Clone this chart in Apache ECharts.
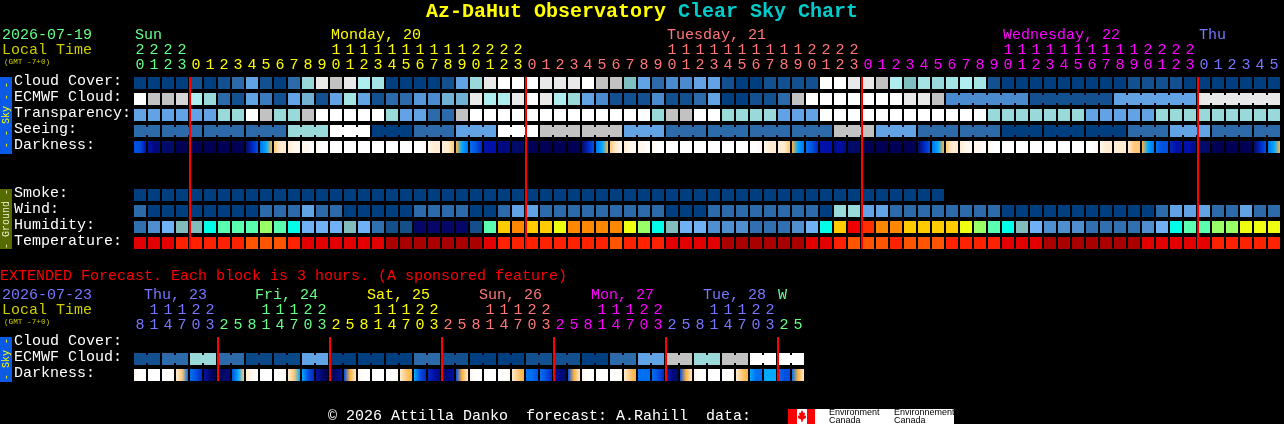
<!DOCTYPE html>
<html><head><meta charset="utf-8">
<style>html,body{margin:0;padding:0;background:#000;overflow:hidden}#c{width:1284px;height:424px}</style>
<script src="https://cdn.jsdelivr.net/npm/echarts@6/dist/echarts.min.js"></script>
</head><body><div id="c"></div>
<script>
// ---------- categories ----------
const rowLabels = ['Cloud Cover:','ECMWF Cloud:','Transparency:','Seeing:','Darkness:','','','Smoke:','Wind:','Humidity:','Temperature:'];
const extRowLabels = ['Cloud Cover:','ECMWF Cloud:','Darkness:'];
const hours = [20,21,22,23,
 0,1,2,3,4,5,6,7,8,9,10,11,12,13,14,15,16,17,18,19,20,21,22,23,
 0,1,2,3,4,5,6,7,8,9,10,11,12,13,14,15,16,17,18,19,20,21,22,23,
 0,1,2,3,4,5,6,7,8,9,10,11,12,13,14,15,16,17,18,19,20,21,22,23,
 0,1,2,3,4,5];
const extHours = [8,11,14,17,20,23,
 2,5,8,11,14,17,20,23, 2,5,8,11,14,17,20,23, 2,5,8,11,14,17,20,23,
 2,5,8,11,14,17,20,23, 2,5,8,11,14,17,20,23, 2,5];
const dayStarts = [0,4,28,52,76];
const dayColours = ['#66ff88','#ffff00','#ff7777','#ff00ff','#7777ff'];
const dayNames = ['Sun','Monday, 20','Tuesday, 21','Wednesday, 22','Thu'];
const dayNameCells = [0,14,38,62,76];
const extDayStarts = [0,6,14,22,30,38,46];
const extDayColours = ['#7777ff','#66ff88','#ffff00','#ff7777','#ff00ff','#7777ff','#66ff88'];
const extDayNames = ['Thu, 23','Fri, 24','Sat, 25','Sun, 26','Mon, 27','Tue, 28','W'];
const extDayNameCells = [0.65,8.57,16.57,24.57,32.57,40.57,45.93];
const midnights = [4,28,52,76];
const extMidnights = [6,14,22,30,38,46];

// ---------- series values (levels) ----------
const cloud = [0,0,0,0, 1,0,1,2,4,1,0,2,6,9,8,9,7,6.5,0,0,0,
 0,1,4,6,9,10,10,10,9,9,9,10,8,8,5,4,2,3,3,4,4,1,0,0,1,1,1,1,10,10,9,
 9,8,7,5,6.5,6,6.5,7,6.5,1, 0,0,0,0,0,0,0,0,0, 1,1,1,1, 0,0,0,0,0,0,0];
const ecmwf = [10,8,8,8.5,7,6,2,1,4,2.5,1,4,4.5,1,4,6.5,4,1,2,2,3.5,
 3,4.5,4.5,9,7,7,9,10,9,7,6,4,3,1,1,1,3,1,1,2,4,0,0,1,1,2,8,10,10,10,10,
 10,10,10,9,9,8, 3,3,3,3,3,3, 1,1,1,1,1,1, 4,4,4,4,4,4, 9,9,9,9,9,9];
const transparency = [4,4,4,4,4,4,6,6,10,8,6,6,8,10,10,10,10,10,6,4,4,
 2,2,8,10,10,10,10,10,10,10,10,10,10,10,10,10,6,8,8,10,10,6,6,6,6,4,4,4,10,10,10,
 10,10,10,10,10,10,10,10,10,6,6,6,6,6,6,6,4,4,4,4,4,6,6,6,6,6,6,6,6,6];
const seeing = [2,2, 2,2,2, 2,2,2, 2,2,2, 6,6,6, 10,10,10, 0,0,0, 2,2,2, 4,4,4, 10,10,10,
 8,8,8, 8,8,8, 4,4,4, 2,2,2, 2,2,2, 2,2,2, 2,2,2, 8,8,8, 4,4,4, 2,2,2, 2,2,2,
 0,0,0, 0,0,0, 0,0,0, 2,2,2, 4,4,4, 2,2,2, 2,2];
const darkness = [[8,8,10],[10,11,11],[12,12,12],[13,13,13],
 [13,13,13],[13,13,13],[13,13,13],[13,13,13],[12,9,8],[7,6,4],[3,2,2],[2,1,1],[1,1,0],[1,0,0],
 [0,0,0],[0,0,0],[0,0,0],[0,0,0],[0,0,0],[0,0,0],[0,0,1],[1,2,2],[2,2,3],[4,6,7],[7,8,9],[10,10,10],[11,11,11],[12,12,12],
 [13,13,13],[13,13,13],[13,13,13],[13,13,13],[12,9,8],[7,6,4],[3,2,1],[2,1,1],[1,1,0],[1,0,0],
 [0,0,0],[0,0,0],[0,0,0],[0,0,0],[0,0,0],[0,0,0],[0,0,1],[1,2,2],[2,2,3],[4,6,7],[7,8,9],[10,10,10],[11,10,11],[12,12,12],
 [13,13,13],[13,13,13],[13,13,13],[13,13,13],[12,9,8],[7,6,4],[3,2,2],[2,1,1],[1,1,0],[1,0,0],
 [0,0,0],[0,0,0],[0,0,0],[0,0,0],[0,0,0],[0,0,0],[0,0,1],[1,2,2],[2,2,2],[2,3,3],[4,6,7],[7,8,8],[9,10,10],[10,10,11],
 [12,12,12],[13,13,13],[13,13,13],[13,13,13],[12,9,8],[7,6,4]];
const smoke = [0,0,0,0,0,0,0,0,0,0,0,0,0,0,0,0,0,0,0,0,0,0,0,0,0,0,0,0,0,0,
 0,0,0,0,0,0,0,0,0,0,0,0,0,0,0,0,0,0,0,0,0,0,0,0,0,0,0,0];
const wind = [2,0,0,0,0,0,0,0,0,2,2,2,4,2,2,0,0,0,0,0,2,
 2,2,2,0,0,2,4,4,2,2,2,2,2,2,2,2,2,0,0,0,2,2,2,2,2,2,2,2,0,6,6,
 4,4,2,2,2,2,2,2,2,2,0,0,0,0,0,0,0,0,0,0,0,2,4,4,4,2,2,4,2,2];
const humidity = [2,3,4,5,5,6,7,7,7,8,7,6,4,4,4,5,4,2,1,1,0,
 0,0,0,1,7,10,11,10,10,9,11,11,11,11,9,8,6,5,4,4,3,3,3,2,2,2,3,4,6,10,13,
 12,11,11,10,10,10,10,9,8,7,6,5,4,3,3,3,2,2,2,2,3,4,6,7,7,8,8,9,9,9];
const temperature = [1,1,1,2,2,2,2,2,3,3,3,2,1,1,1,1,1,1,0,0,0,
 0,0,0,0,1,2,2,2,2,2,2,2,2,3,2,2,2,1,1,1,1,0,0,0,0,0,0,1,1,2,3,
 3,3,2,3,3,3,2,2,2,2,1,1,1,0,0,0,0,0,0,0,1,1,1,1,1,2,2,2,2,2];
const extEcmwf = [1,1,2,2,6,6,2,2,0.5,0.5,0.5,0.5,4,4,0,0,0,0,0,0,2,2,1,1,
 0,0,0,0,1,1,1,1,0,0,2,2,4,4,8,8,6,6,8,8,10,10,10,10];
const extDarkness = [[1,0,0],[0,0,0],[0,0,1],[2,3,7],[7,8,9],[10,12,13],[13,12,11],[8,6,3],
 [2,1,0],[0,0,0],[0,0,1],[2,3,6],[6,8,9],[10,12,13],[13,12,10],[8,4,2],
 [1,0,0],[0,0,0],[0,0,1],[2,3,4],[6,8,9],[9,10,11],[12,11,10],[8,4,2],
 [1,0,0],[0,0,0],[0,0,1],[2,3,4],[7,7,8],[7,8,9],[10,11,12],[8,4,2],
 [1,0,0],[0,0,0],[0,0,1],[2,3,4],[7,7,7],[7,8,9],[9,11,12],[8,4,2],
 [1,0,0],[0,0,0],[0,0,1],[2,3,4],[6,7,7],[6,6,6],[7,8,8],[7,4,2]];

// ---------- palettes ----------
const cloudColours = ['#003f7f','#13508f','#2c6aa9','#4a8bd0','#62a3e6','#7fbfbf','#99d9d9','#aeeeee','#c2c2c2','#e9e9e9','#ffffff'];
const humidityColours = ['#060668','#144f8a','#3070b0','#4f8fd0','#70b0f5','#82bcbc','#00ffe8','#5affb0','#99ff66','#eeff10','#ffcc00','#ff8800','#ff3000','#ee0000'];
const temperatureColours = ['#aa0000','#e30000','#ff2200','#ff5500'];
const darknessColours = ['#ffffff','#fff8ee','#ffecd2','#ffc878','#ffb040','#40b090','#00a8ff','#0070f0','#0050e0','#0028c0','#0010a8','#000a80','#000a68','#000055'];

const MONO = '"Liberation Mono","DejaVu Sans Mono",monospace';
const FS = 15;

const shade = v => echarts.color.lerp(v/10, cloudColours);
const sameBlock = (i, start, size) => size>0 && i>=start-size*10 && Math.floor((i-start)/size)===Math.floor((i+1-start)/size);

// one row of blocks: [cell, row, colourIndex, bridgeToNext]
function blockSeries(name, gridIdx, row, values, colourOf, blockStart, blockSize, from){
  return {
    type:'custom', name, xAxisIndex:gridIdx===0?0:2, yAxisIndex:gridIdx, z:2, clip:false, silent:true,
    encode:{x:0,y:1},
    data: values.map((v,i)=>[i,row,v,(i+1<values.length && i>=(from||0) && values[i+1]===v && sameBlock(i,blockStart,blockSize))?1:0]),
    renderItem(p,api){
      const c=api.coord([api.value(0),api.value(1)]), s=api.size([1,1]);
      const w=s[0]-2,h=s[1]-4,x=c[0]-w/2,y=c[1]-h/2,fill=colourOf(api.value(2));
      const children=[{type:'rect',shape:{x,y,width:w,height:h},style:{fill}}];
      if(api.value(3)) children.push({type:'rect',shape:{x:x+w,y:y+2,width:2,height:h-4},style:{fill}});
      return {type:'group',children};
    }
  };
}
function darkSeries(name, gridIdx, row, triples){
  return {
    type:'custom', name, xAxisIndex:gridIdx===0?0:2, yAxisIndex:gridIdx, z:2, clip:false, silent:true,
    encode:{x:0,y:1},
    data: triples.map((t,i)=>[i,row,t[0],t[1],t[2]]),
    renderItem(p,api){
      const c=api.coord([api.value(0),api.value(1)]), s=api.size([1,1]);
      const w=s[0]-2,h=s[1]-4;
      return {type:'rect',shape:{x:c[0]-w/2,y:c[1]-h/2,width:w,height:h},style:{fill:{type:'linear',x:0,y:0,x2:1,y2:0,colorStops:[
        {offset:0,color:darknessColours[api.value(2)]},
        {offset:0.5,color:darknessColours[api.value(3)]},
        {offset:1,color:darknessColours[api.value(4)]}]}}};
    }
  };
}
function redLines(gridIdx, cells, lastRow){
  return {
    type:'custom', name:'midnight', xAxisIndex:gridIdx===0?0:2, yAxisIndex:gridIdx, z:5, clip:false, silent:true,
    encode:{x:0,y:1},
    data: cells.map(c=>[c,0]),
    renderItem(p,api){
      const a=api.coord([api.value(0),0]), b=api.coord([api.value(0),lastRow]), s=api.size([1,1]);
      return {type:'rect',shape:{x:a[0]-s[0]/2,y:a[1]-s[1]/2+2,width:2,height:b[1]-a[1]+s[1]-4},style:{fill:'#ff0000'}};
    }
  };
}
function colourAt(i,starts,colours){let k=0;starts.forEach((s,j)=>{if(i>=s)k=j});return colours[k];}
function hourAxis(gridIndex,hrs,starts,colours,tens,margin,offset){
  return {
    type:'category', gridIndex, position:'top', offset,
    data: hrs.map((h,i)=>({value:tens?(h>=10?String(Math.floor(h/10)):''):String(h%10),textStyle:{color:colourAt(i,starts,colours)}})),
    axisLine:{show:false}, axisTick:{show:false}, splitLine:{show:false},
    axisLabel:{interval:0,margin,fontFamily:MONO,fontSize:FS,hideOverlap:false}
  };
}
function rowAxis(gridIndex,labels){
  return {
    type:'category', gridIndex, inverse:true, data:labels,
    axisLine:{show:false}, axisTick:{show:false}, splitLine:{show:false},
    axisLabel:{interval:0,align:'left',margin:119,color:'#fff',
      formatter:v=>v?'{a|'+v+'}':'',
      rich:{a:{color:'#fff',fontFamily:MONO,fontSize:FS,padding:[0,0,4,0]}}}
  };
}
const txt=(x,y,text,fill,size,extra)=>Object.assign({type:'text',x,y,silent:true,style:Object.assign({text,fill,font:(size||FS)+'px '+MONO,verticalAlign:'middle'},extra||{})});
const rect=(x,y,w,h,fill)=>({type:'rect',silent:true,shape:{x,y,width:w,height:h},style:{fill}});
const side=(cx,cy,text,fill,size)=>({type:'text',x:cx,y:cy,rotation:Math.PI/2,silent:true,style:{text,fill,font:size+'px '+MONO,align:'center',verticalAlign:'middle'}});
const cellLeft=i=>134+14*i;

const graphics=[
  // title
  {type:'text',x:426,y:12,silent:true,style:{text:'Az-DaHut Observatory',fill:'#ffff00',font:'bold 20px '+MONO,verticalAlign:'middle'}},
  {type:'text',x:678,y:12,silent:true,style:{text:'Clear Sky Chart',fill:'#00cccc',font:'bold 20px '+MONO,verticalAlign:'middle'}},
  // header left
  txt(2,35,'2026-07-19','#66ff88'),
  txt(2,50,'Local Time','#cccc00'),
  txt(4,62,'(GMT -7+0)','#cccc00',7.7),
  // side bars
  rect(0,77,12,77,'#0a5ae6'), side(6,115,'- - Sky - -','#ffff00',10),
  rect(0,189,12,60,'#556b00'), side(6,219,'- Ground -','#eeeecc',10),
  rect(0,337,12,45,'#0a5ae6'), side(6,359,'- Sky -','#ffff00',10),
  // extended
  txt(0,276,'EXTENDED Forecast. Each block is 3 hours. (A sponsored feature)','#ff0000'),
  txt(2,295,'2026-07-23','#7777ff'),
  txt(2,310,'Local Time','#cccc00'),
  txt(4,322,'(GMT -7+0)','#cccc00',7.7),
  // footer
  txt(328,416,'\u00a9 2026 Attilla Danko  forecast: A.Rahill  data:','#ffffff'),
  rect(788,409,166,15,'#ffffff'),
  rect(788,409,9,15,'#ff0000'),
  rect(807,409,8,15,'#ff0000'),
  {type:'polygon',silent:true,shape:{points:[[802,410],[803.5,413],[805,412.5],[804.5,416],[806,415.5],[806,418],[803,419.5],[802.5,422],[801.5,422],[801,419.5],[798,418],[798,415.5],[799.5,416],[799,412.5],[800.5,413]]},style:{fill:'#ff0000'}},
  {type:'text',x:829,y:413,silent:true,style:{text:'Environment',fill:'#000',font:'9px "Liberation Sans"',verticalAlign:'middle'}},
  {type:'text',x:829,y:420.5,silent:true,style:{text:'Canada',fill:'#000',font:'9px "Liberation Sans"',verticalAlign:'middle'}},
  {type:'text',x:894,y:413,silent:true,style:{text:'Environnement',fill:'#000',font:'9px "Liberation Sans"',verticalAlign:'middle'}},
  {type:'text',x:894,y:420.5,silent:true,style:{text:'Canada',fill:'#000',font:'9px "Liberation Sans"',verticalAlign:'middle'}},
];
dayNames.forEach((n,k)=>graphics.push(txt(cellLeft(dayNameCells[k])+1,35,n,dayColours[k])));
extDayNames.forEach((n,k)=>graphics.push(txt(cellLeft(extDayNameCells[k])+1,295,n,extDayColours[k])));

const option={
  backgroundColor:'#000', animation:false,
  grid:[
    {left:133,top:75,width:14*hours.length,height:16*rowLabels.length,containLabel:false},
    {left:133,top:335,width:14*extHours.length,height:16*extRowLabels.length,containLabel:false}
  ],
  xAxis:[
    hourAxis(0,hours,dayStarts,dayColours,false,2,0),
    hourAxis(0,hours,dayStarts,dayColours,true,2,15),
    hourAxis(1,extHours,extDayStarts,extDayColours,false,2,0),
    hourAxis(1,extHours,extDayStarts,extDayColours,true,2,15)
  ],
  yAxis:[rowAxis(0,rowLabels),rowAxis(1,extRowLabels)],
  series:[
    blockSeries('Cloud Cover',0,0,cloud,shade,0,0),
    blockSeries('ECMWF Cloud',0,1,ecmwf,shade,58,6,58),
    blockSeries('Transparency',0,2,transparency,shade,0,0),
    blockSeries('Seeing',0,3,seeing,shade,2,3),
    darkSeries('Darkness',0,4,darkness),
    blockSeries('Smoke',0,7,smoke,shade,0,0),
    blockSeries('Wind',0,8,wind,shade,0,0),
    blockSeries('Humidity',0,9,humidity,v=>humidityColours[v],0,0),
    blockSeries('Temperature',0,10,temperature,v=>temperatureColours[v],0,0),
    redLines(0,midnights,10),
    blockSeries('Ext ECMWF Cloud',1,1,extEcmwf,shade,0,2),
    darkSeries('Ext Darkness',1,2,extDarkness),
    redLines(1,extMidnights,2)
  ],
  graphic:{elements:graphics}
};
const chart=echarts.init(document.getElementById('c'),null,{renderer:'canvas',devicePixelRatio:1});
chart.setOption(option);
</script>
</body></html>
